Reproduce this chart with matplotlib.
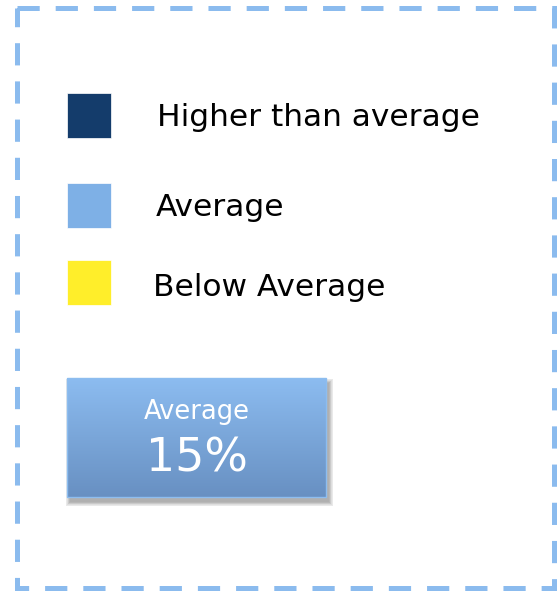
import numpy as np
import matplotlib.pyplot as plt
from matplotlib.patches import Rectangle

plt.rcParams['lines.scale_dashes'] = False

# legend entries
labels = ['Higher than average', 'Average', 'Below Average']
colors = ['#143C6B', '#7EB0E6', '#FFEE2A']
avg_label = 'Average'
avg_value = 15  # percent

fig = plt.figure(figsize=(5.58, 5.98), dpi=100)
ax = fig.add_axes([0, 0, 1, 1])
ax.set_xlim(0, 558)
ax.set_ylim(598, 0)
ax.axis('off')

# dashed frame
ax.add_patch(Rectangle((17, 8), 537, 580, fill=False, edgecolor='#8BBBEE',
                       linewidth=3.6, linestyle=(0, (16, 11.5))))

# legend squares and labels
square_y = [93, 183, 260]
text_y = [118, 208, 288]
text_x = [157, 156, 153]
for y, ty, c, lab, tx in zip(square_y, text_y, colors, labels, text_x):
    ax.add_patch(Rectangle((67, y), 44, 45, facecolor=c, edgecolor='white', linewidth=0.5))
    ax.text(tx, ty, lab, fontsize=22.5, family='DejaVu Sans', va='center', ha='left', color='black')

# shadow for average box
bx, by, bw, bh = 67, 378, 259, 119
for i in range(8):
    ax.add_patch(Rectangle((bx + 3 - i * 0.6, by + 5 - i * 0.6), bw + i * 1.2, bh + i * 1.2,
                           facecolor='black', edgecolor='none', alpha=0.045))

# gradient box
grad = np.linspace(0, 1, 100).reshape(-1, 1)
top = np.array([0x8C, 0xBC, 0xF0]) / 255
bot = np.array([0x68, 0x90, 0xC2]) / 255
img = top + grad[..., None] * (bot - top)
ax.imshow(img, extent=(bx, bx + bw, by + bh, by), aspect='auto', zorder=2)
ax.add_patch(Rectangle((bx, by), bw, bh, fill=False, edgecolor='#8DBDEF', linewidth=1, zorder=3))
ax.text(bx + bw / 2, 412, avg_label, fontsize=18.5, color='white', ha='center', va='center', zorder=4)
ax.text(bx + bw / 2, 459, f'{avg_value}%', fontsize=33, color='white', ha='center', va='center', zorder=4)

fig.savefig('out.png', dpi=100)
